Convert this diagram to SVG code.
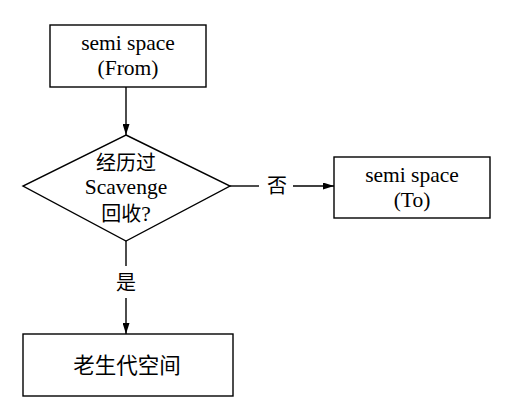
<svg xmlns="http://www.w3.org/2000/svg" width="513" height="411" viewBox="0 0 513 411">
<style>
.shape{fill:#fff;stroke:#000;stroke-width:1.4}
.conn{fill:none;stroke:#000;stroke-width:1.4}
text{font-family:"Liberation Serif","Noto Sans CJK SC",serif;font-size:21.5px;fill:#000;text-anchor:middle}
.cjk{font-family:"Noto Sans CJK SC","Liberation Serif",sans-serif;font-size:20px}
.big{font-size:21.5px}
</style>
<defs>
<marker id="arr" markerWidth="11" markerHeight="7" refX="11" refY="3.5" orient="auto" markerUnits="userSpaceOnUse">
<path d="M0,0 L11,3.5 L0,7 Z" fill="#000"/>
</marker>
</defs>
<rect width="513" height="411" fill="#fff"/>
<g id="connectors">
<line class="conn" x1="126" y1="87" x2="126" y2="135" marker-end="url(#arr)"/>
<line class="conn" x1="230" y1="186" x2="259" y2="186"/>
<line class="conn" x1="293" y1="186" x2="334" y2="186" marker-end="url(#arr)"/>
<text class="cjk" x="277" y="193">否</text>
<line class="conn" x1="126" y1="241" x2="126" y2="266"/>
<line class="conn" x1="126" y1="298" x2="126" y2="334" marker-end="url(#arr)"/>
<text class="cjk" x="126" y="290">是</text>
</g>
<g id="from">
<rect class="shape" x="50" y="25" width="156" height="62"/>
<text x="128" y="50">semi space</text>
<text x="128" y="75">(From)</text>
</g>
<g id="decision">
<polygon class="shape" points="126,135 230,186 126,241 23,186"/>
<text class="cjk" x="126" y="170">经历过</text>
<text x="126" y="194">Scavenge</text>
<text x="126" y="221"><tspan class="cjk">回收</tspan>?</text>
</g>
<g id="to">
<rect class="shape" x="334" y="157" width="156" height="61"/>
<text x="412" y="182">semi space</text>
<text x="412" y="207">(To)</text>
</g>
<g id="old">
<rect class="shape" x="23" y="334" width="210" height="62"/>
<text class="cjk big" x="127" y="373">老生代空间</text>
</g>
</svg>
